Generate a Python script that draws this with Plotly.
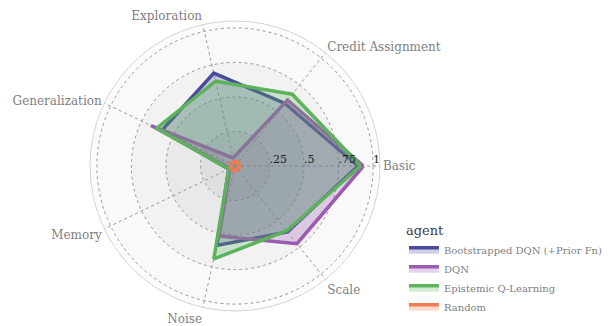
import plotly.graph_objects as go

categories = [
    "Basic",
    "Credit Assignment",
    "Exploration",
    "Generalization",
    "Memory",
    "Noise",
    "Scale",
]
agents = [
    "Bootstrapped DQN (+Prior Fn)",
    "DQN",
    "Epistemic Q-Learning",
    "Random",
]
boot_dqn = [0.89, 0.58, 0.69, 0.59, 0.05, 0.59, 0.61]
dqn = [0.93, 0.61, 0.06, 0.675, 0.04, 0.52, 0.72]
epistemic_q = [0.91, 0.665, 0.63, 0.63, 0.05, 0.69, 0.60]
random_agent = [0.035, 0.035, 0.035, 0.035, 0.035, 0.035, 0.035]

radial_ticks = [0.25, 0.5, 0.75, 1.0]
radial_ticktext = [".25", ".5", ".75", "1"]

colors = ["#4b4b9c", "#9b5bb0", "#5cb35c", "#ef7b52"]
fills = [
    "rgba(75,75,156,0.27)",
    "rgba(155,91,176,0.27)",
    "rgba(92,179,92,0.27)",
    "rgba(239,123,82,0.27)",
]

FONT = "DejaVu Serif"

fig = go.Figure()

#
# background rings (own polar, numeric angles, drawn underneath)
#
ring_base = [0.0, 0.25, 0.5, 0.75]
ring_colors = ["#dfdfdf", "#e9e9e9", "#f2f2f2", "#f9f9f9"]
fig.add_trace(
    go.Barpolar(
        r=[0.25, 0.25, 0.25, 0.25],
        base=ring_base,
        theta=[0, 0, 0, 0],
        width=[360, 360, 360, 360],
        marker=dict(color=ring_colors, line=dict(width=0)),
        showlegend=False,
        hoverinfo="skip",
        subplot="polar",
    )
)

#
# agents
#
for name, values, color, fill in zip(
    agents, [boot_dqn, dqn, epistemic_q, random_agent], colors, fills
):
    fig.add_trace(
        go.Scatterpolar(
            r=values + values[:1],
            theta=categories + categories[:1],
            mode="lines",
            fill="toself",
            fillcolor=fill,
            line=dict(color=color, width=3.5),
            name=name,
            subplot="polar2",
        )
    )

fig.add_trace(
    go.Scatterpolar(
        r=radial_ticks,
        theta=[categories[0]] * len(radial_ticks),
        mode="text",
        text=radial_ticktext,
        textposition="top right",
        textfont=dict(family=FONT, size=11, color="#222222"),
        showlegend=False,
        hoverinfo="skip",
        subplot="polar2",
    )
)

# the page body adds an 8px offset, so the domain is shifted back by that
domain = dict(x=[82 / 616, 372 / 616], y=[23 / 326, 313 / 326])

fig.update_layout(
    width=616,
    height=326,
    margin=dict(l=0, r=0, t=0, b=0, autoexpand=False),
    paper_bgcolor="white",
    font=dict(family=FONT, size=11, color="#808080"),
    polar=dict(
        domain=domain,
        bgcolor="#fcfcfc",
        radialaxis=dict(
            range=[0, 1.05],
            visible=False,
        ),
        angularaxis=dict(visible=False, direction="counterclockwise", rotation=0),
    ),
    polar2=dict(
        domain=domain,
        bgcolor="rgba(0,0,0,0)",
        radialaxis=dict(
            range=[0, 1.05],
            tickvals=radial_ticks,
            showticklabels=False,
            showline=False,
            ticks="",
            gridcolor="#999999",
            griddash="dot",
            gridwidth=1.3,
        ),
        angularaxis=dict(
            direction="counterclockwise",
            rotation=0,
            showline=True,
            linecolor="#d4d4d4",
            linewidth=1,
            gridcolor="#999999",
            griddash="dot",
            gridwidth=1.3,
            ticks="",
            tickfont=dict(family=FONT, size=12, color="#808080"),
        ),
    ),
    legend=dict(
        title=dict(text="agent", font=dict(family=FONT, size=13, color="#404040")),
        x=0.6428,
        xanchor="left",
        y=0.039,
        yanchor="bottom",
        font=dict(family=FONT, size=10, color="#808080"),
        bgcolor="rgba(0,0,0,0)",
        tracegroupgap=0,
    ),
)

fig.write_html("out.html")
